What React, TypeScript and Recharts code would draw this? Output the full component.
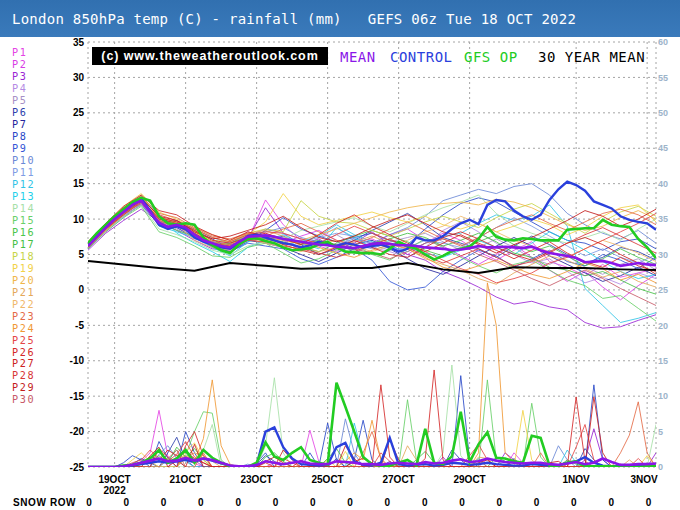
import React from "react";
import { LineChart, Line, XAxis, YAxis, CartesianGrid } from "recharts";

// forecast hours (from 18 OCT 06z) of the date ticks, and their labels
const tickHours = [18, 66, 114, 162, 210, 258, 330, 378];
const tickLabels = ["19OCT", "21OCT", "23OCT", "25OCT", "27OCT", "29OCT", "1NOV", "3NOV"];
const tempTicks = [-25, -20, -15, -10, -5, 0, 5, 10, 15, 20, 25, 30, 35];
const rainTicks = [0, 5, 10, 15, 20, 25, 30, 35, 40, 45, 50, 55, 60];
const snowRow = [0, 0, 0, 0, 0, 0, 0, 0, 0, 0, 0, 0, 0, 0, 0, 0];

const memberNames = Array.from({ length: 30 }, (_, i) => "P" + (i + 1));
const memberColors = [
  "#e444e4", "#d83ce6", "#9a24d4", "#b48ae4", "#a690c6", "#2c40ac", "#24249c", "#2848c8",
  "#3456d6", "#6a88d6", "#7e9ce4", "#30c4e6", "#22d0ea", "#a6e0a6", "#68d068", "#4ac64a",
  "#44c044", "#c6d446", "#f2d246", "#f0b64a", "#e4a85a", "#f0b86a", "#e46a46", "#f09834",
  "#e44646", "#d42828", "#cc2222", "#d83636", "#c41c1c", "#c85a68",
];

// 6-hourly main lines, 850hPa temp (C)
const meanT = [6.2, 7.5, 8.8, 10.0, 11.0, 12.0, 12.6, 11.0, 9.5, 8.9, 9.2, 8.8, 7.8, 7.0, 6.6, 6.2, 6.0, 6.8, 7.5, 7.6, 7.7, 7.5, 7.2, 7.0, 6.8, 6.6, 6.4, 6.3, 6.1, 6.0, 5.9, 6.2, 6.5, 6.6, 6.5, 6.3, 6.3, 6.2, 6.0, 5.9, 5.8, 5.6, 5.7, 5.9, 6.2, 6.0, 6.0, 6.1, 6.0, 5.9, 6.1, 5.6, 5.2, 5.0, 4.8, 4.5, 3.9, 4.0, 4.1, 3.8, 3.4, 3.6, 3.8, 3.6, 3.5];
const controlT = [6.4, 7.8, 9.0, 10.2, 11.2, 12.2, 12.9, 11.2, 9.2, 8.6, 9.0, 8.6, 7.4, 6.8, 6.4, 6.0, 5.8, 6.6, 7.6, 7.8, 7.4, 7.0, 6.6, 6.4, 6.0, 6.3, 6.8, 6.5, 6.2, 6.6, 6.4, 6.0, 6.2, 6.4, 6.0, 5.4, 5.8, 7.4, 7.0, 7.0, 7.6, 8.6, 9.4, 9.9, 9.3, 12.0, 12.7, 12.5, 11.2, 10.4, 9.9, 10.6, 12.7, 14.2, 15.3, 14.8, 14.0, 12.5, 12.0, 11.5, 10.4, 9.9, 9.6, 9.4, 8.5];
const gfsT = [6.6, 8.0, 9.2, 10.4, 11.4, 12.4, 13.0, 12.6, 10.4, 9.4, 9.2, 9.4, 9.2, 7.4, 6.3, 5.6, 5.2, 6.4, 7.2, 7.3, 6.9, 6.6, 6.0, 5.6, 5.7, 5.9, 6.4, 6.8, 6.0, 5.4, 5.3, 5.2, 5.2, 5.0, 5.8, 6.8, 6.2, 5.8, 5.0, 4.3, 4.8, 5.5, 5.8, 6.1, 7.2, 8.9, 7.5, 7.1, 7.0, 7.3, 7.2, 7.0, 7.0, 7.0, 8.5, 8.6, 8.7, 8.7, 9.9, 9.2, 9.0, 8.9, 7.2, 6.0, 4.5];
// daily 30 year mean
const climT = [4.1, 3.6, 3.1, 2.7, 3.8, 3.4, 3.0, 3.1, 3.1, 3.8, 2.9, 2.4, 3.2, 3.1, 3.1, 2.9, 2.8];

// 12-hourly perturbation members, 850hPa temp (C)
const p1 = [6.0, 8.6, 10.8, 12.4, 9.0, 8.8, 7.4, 6.8, 5.2, 7.0, 12.7, 9.2, 7.0, 6.2, 5.4, 6.8, 7.2, 6.0, 5.0, 6.6, 8.0, 7.0, 5.4, 4.2, 5.6, 6.8, 4.0, 3.2, 2.0, 3.6, 1.8, 2.4, 3.0];
const p2 = [6.3, 8.4, 10.6, 12.0, 10.2, 9.6, 8.0, 6.0, 6.4, 8.2, 7.4, 6.6, 7.6, 8.4, 7.0, 5.2, 6.4, 7.8, 8.6, 7.0, 6.2, 4.8, 3.6, 5.0, 6.4, 4.6, 2.8, 1.2, 2.6, 0.4, -1.4, 0.6, 2.2];
const p3 = [5.6, 8.0, 9.8, 11.4, 9.6, 8.4, 7.0, 5.8, 5.6, 7.2, 11.6, 8.0, 6.4, 7.2, 5.8, 6.6, 8.2, 6.4, 5.0, 4.2, 2.6, 1.6, 0.4, -1.0, -2.0, -1.6, -2.4, -2.8, -4.6, -5.4, -5.2, -4.3, -3.5];
const p4 = [6.0, 8.2, 10.2, 12.2, 10.0, 9.0, 7.6, 6.4, 6.8, 7.8, 8.0, 7.0, 5.6, 7.4, 8.8, 7.2, 6.0, 5.4, 4.6, 6.0, 8.4, 9.6, 8.2, 6.6, 5.0, 3.8, 4.4, 2.6, 1.0, 1.8, 0.8, 2.4, 1.6];
const p5 = [6.5, 8.8, 11.2, 12.8, 9.8, 8.6, 7.2, 6.6, 6.2, 7.6, 8.6, 8.0, 7.2, 6.6, 7.8, 6.4, 5.8, 6.8, 7.4, 8.0, 6.8, 5.6, 6.0, 7.2, 6.0, 4.4, 3.6, 4.8, 3.2, 2.2, 3.6, 4.4, 2.8];
const p6 = [6.2, 8.8, 11.4, 12.6, 9.4, 9.8, 8.4, 7.2, 5.8, 7.4, 7.0, 7.6, 6.4, 5.0, 5.8, 7.0, 8.4, 9.6, 10.8, 9.2, 7.4, 6.6, 5.8, 4.6, 6.2, 7.6, 6.4, 5.0, 3.8, 4.6, 6.0, 5.4, 4.2];
const p7 = [6.6, 9.2, 11.6, 13.0, 10.4, 9.0, 7.8, 6.8, 6.4, 7.0, 6.6, 6.0, 5.0, 4.0, 5.2, 6.4, 7.0, 5.8, 4.4, 3.0, 2.2, 3.4, 4.8, 6.2, 7.4, 6.2, 4.8, 3.6, 2.4, 1.2, 2.0, 3.2, 2.0];
const p8 = [5.8, 8.4, 10.4, 12.0, 9.2, 8.8, 7.4, 6.2, 5.4, 6.8, 8.4, 10.2, 8.6, 7.6, 6.8, 7.4, 8.0, 7.0, 6.4, 8.6, 10.6, 12.2, 13.0, 12.4, 11.0, 9.6, 8.2, 7.0, 6.6, 5.6, 6.8, 7.2, 5.8];
const p9 = [6.4, 9.0, 11.0, 12.6, 9.6, 9.4, 7.8, 6.0, 5.4, 6.6, 6.2, 5.8, 4.4, 3.6, 4.6, 5.8, 4.2, 1.2, 0.0, 0.4, 2.6, 4.2, 5.6, 4.8, 3.2, 4.4, 5.6, 4.0, 3.4, 5.0, 4.2, 3.0, 4.6];
const p10 = [6.0, 8.6, 10.8, 12.2, 9.4, 9.2, 8.6, 7.4, 6.6, 7.8, 8.2, 8.8, 7.4, 6.8, 6.4, 7.2, 6.6, 7.8, 8.8, 10.4, 12.6, 13.4, 14.2, 13.6, 14.6, 15.0, 13.4, 10.8, 9.2, 8.0, 7.2, 8.4, 6.6];
const p11 = [6.2, 8.6, 10.6, 12.4, 9.6, 9.0, 7.6, 6.8, 6.0, 7.2, 7.8, 7.4, 6.8, 7.4, 8.0, 7.6, 6.4, 5.6, 6.0, 7.0, 6.6, 6.0, 7.4, 8.8, 10.2, 9.0, 7.6, 6.2, 4.8, 5.8, 4.6, 3.8, 5.0];
const p12 = [6.6, 9.0, 11.4, 13.4, 9.0, 8.2, 7.4, 6.0, 4.8, 6.8, 7.4, 6.4, 6.8, 7.6, 9.2, 7.8, 6.8, 6.2, 5.4, 6.6, 7.6, 8.0, 9.4, 10.6, 9.8, 10.4, 12.0, 9.0, 0.2, -2.2, -4.6, -4.0, -3.2];
const p13 = [6.4, 8.8, 11.0, 13.2, 10.6, 8.0, 6.6, 5.4, 4.0, 6.0, 7.0, 7.8, 6.6, 5.8, 8.8, 7.4, 6.0, 7.0, 6.0, 5.2, 4.6, 5.6, 7.0, 6.0, 5.0, 6.6, 8.2, 7.0, 5.6, 4.0, 2.6, 1.6, 2.2];
const p14 = [6.2, 8.4, 10.4, 12.0, 8.6, 7.8, 6.8, 5.6, 5.0, 6.2, 6.8, 7.2, 8.4, 9.0, 9.6, 10.2, 9.0, 8.2, 9.4, 10.6, 11.6, 12.4, 13.4, 10.8, 9.0, 8.0, 7.2, 6.6, 7.4, 8.2, 7.0, 8.6, 10.0];
const p15 = [5.8, 8.2, 10.2, 11.8, 8.2, 7.4, 6.2, 4.8, 4.6, 6.0, 6.6, 5.2, 3.8, 4.4, 5.6, 6.4, 5.0, 4.2, 5.8, 7.2, 6.0, 4.6, 3.4, 2.4, 3.6, 4.2, 2.8, 1.4, 0.6, -1.2, -0.8, -2.6, -4.4];
const p16 = [6.4, 8.8, 11.0, 12.8, 9.6, 8.4, 7.6, 6.2, 6.6, 7.6, 7.2, 6.8, 6.0, 5.4, 6.6, 7.6, 8.4, 7.6, 6.8, 5.6, 4.8, 5.8, 6.8, 7.8, 6.4, 5.4, 6.2, 4.8, 3.4, 4.4, 5.8, 4.6, 3.6];
const p17 = [6.0, 8.6, 10.6, 12.6, 10.0, 9.2, 8.0, 6.6, 6.0, 7.0, 7.6, 7.2, 6.4, 7.0, 6.2, 5.6, 6.6, 7.2, 8.0, 7.4, 6.2, 7.0, 8.0, 6.8, 5.2, 4.6, 3.2, 2.8, 2.0, 2.6, 1.4, 0.2, -0.6];
const p18 = [6.6, 9.0, 11.2, 13.0, 10.4, 9.4, 8.4, 7.0, 6.8, 8.0, 8.6, 8.2, 12.6, 10.4, 9.6, 9.4, 8.4, 7.6, 8.6, 9.6, 10.4, 9.6, 8.8, 10.2, 11.4, 12.2, 10.8, 9.4, 8.0, 9.6, 11.0, 11.8, 10.4];
const p19 = [6.8, 9.4, 11.8, 13.6, 11.0, 10.0, 8.6, 7.4, 6.8, 7.8, 9.6, 13.6, 10.4, 9.2, 9.8, 10.4, 11.0, 10.2, 9.6, 10.4, 9.2, 8.6, 9.4, 8.2, 9.0, 10.0, 9.2, 7.8, 8.8, 10.4, 11.6, 12.0, 9.6];
const p20 = [6.4, 9.0, 11.2, 13.2, 10.2, 9.6, 8.2, 6.6, 6.2, 7.4, 7.0, 6.4, 7.0, 7.8, 8.6, 9.4, 10.2, 11.0, 11.6, 12.0, 12.2, 12.4, 12.0, 12.8, 12.4, 11.6, 10.4, 9.2, 8.4, 9.0, 10.2, 11.2, 10.0];
const p21 = [6.0, 8.4, 10.6, 12.4, 9.8, 9.4, 8.8, 7.8, 7.0, 8.0, 8.4, 7.6, 6.2, 5.4, 6.0, 6.8, 7.6, 6.6, 5.8, 4.4, 3.6, 2.8, 1.6, 0.8, 2.4, 3.6, 4.8, 4.2, 3.0, 1.8, 2.6, 1.2, 0.4];
const p22 = [6.2, 8.8, 11.2, 13.4, 9.8, 9.2, 7.0, 6.0, 5.6, 7.2, 6.6, 6.0, 5.4, 6.4, 7.0, 6.2, 5.4, 6.2, 7.0, 8.2, 9.0, 10.4, 9.4, 8.2, 7.0, 6.2, 5.4, 4.6, 5.8, 7.0, 6.2, 5.2, 4.0];
const p23 = [6.6, 9.2, 11.6, 13.2, 10.8, 10.2, 8.8, 7.6, 7.2, 8.0, 7.6, 8.6, 9.4, 8.2, 7.0, 6.4, 7.4, 8.6, 9.6, 8.4, 7.2, 6.2, 7.4, 8.8, 9.8, 10.6, 9.4, 8.4, 9.6, 10.8, 11.4, 10.6, 9.2];
const p24 = [6.0, 8.4, 10.6, 12.6, 9.6, 9.0, 8.2, 6.8, 6.4, 7.6, 7.4, 7.0, 6.6, 6.0, 5.2, 4.6, 5.6, 6.4, 5.8, 4.6, 3.2, 2.6, 3.4, 4.2, 3.2, 2.2, 1.6, 2.6, 3.8, 3.0, 1.4, 2.2, 1.0];
const p25 = [6.4, 8.8, 11.0, 12.8, 10.6, 9.8, 8.6, 7.4, 6.8, 7.8, 8.2, 8.0, 7.2, 6.6, 7.8, 9.0, 8.0, 7.0, 6.2, 5.4, 4.2, 3.0, 2.2, 1.0, 1.6, 2.4, 3.8, 4.6, 5.8, 7.0, 8.2, 9.4, 10.8];
const p26 = [6.2, 8.6, 10.8, 12.6, 10.2, 9.6, 8.4, 7.0, 6.6, 7.4, 8.0, 7.2, 6.4, 7.8, 9.4, 10.6, 9.0, 7.8, 6.6, 5.4, 6.6, 7.8, 6.6, 5.6, 4.4, 5.6, 6.8, 5.2, 4.0, 3.2, 4.6, 3.4, 2.6];
const p27 = [6.8, 9.4, 11.8, 13.4, 11.2, 10.6, 9.0, 7.8, 7.0, 8.2, 7.6, 6.4, 5.6, 5.0, 6.0, 7.0, 6.0, 5.0, 4.6, 6.0, 7.4, 8.2, 7.2, 6.0, 5.0, 4.2, 5.4, 6.6, 7.4, 6.4, 5.0, 3.8, 2.2];
const p28 = [6.0, 8.6, 10.6, 12.4, 10.0, 9.4, 8.0, 6.6, 6.2, 7.0, 6.8, 6.2, 5.8, 5.2, 4.6, 5.4, 6.4, 7.2, 6.0, 4.8, 3.8, 4.8, 5.8, 4.6, 3.4, 4.0, 5.2, 6.6, 7.8, 8.8, 7.6, 6.4, 5.2];
const p29 = [6.4, 9.0, 11.2, 13.0, 10.4, 9.8, 8.2, 7.2, 7.6, 8.4, 9.2, 10.4, 8.8, 7.4, 6.8, 7.6, 8.8, 9.8, 10.6, 9.4, 8.2, 7.6, 6.4, 5.2, 6.4, 7.4, 8.6, 9.8, 11.2, 10.4, 9.0, 10.0, 11.4];
const p30 = [6.2, 8.6, 10.8, 12.2, 9.8, 9.0, 7.8, 6.4, 5.8, 7.0, 7.2, 6.6, 6.0, 6.8, 6.4, 5.8, 5.2, 4.4, 5.4, 6.6, 7.2, 6.4, 5.0, 4.0, 2.8, 1.6, 0.6, 1.8, 2.8, 1.6, 0.2, -1.0, -2.2];
const members = [p1, p2, p3, p4, p5, p6, p7, p8, p9, p10, p11, p12, p13, p14, p15, p16, p17, p18, p19, p20, p21, p22, p23, p24, p25, p26, p27, p28, p29, p30];

// 6-hourly rainfall (mm)
const meanR = [0, 0, 0, 0, 0.1, 0.3, 0.6, 0.9, 1.2, 0.8, 0.9, 1.3, 0.9, 1.2, 1.0, 0.6, 0.2, 0.1, 0.1, 0.3, 0.8, 0.6, 0.4, 0.6, 0.8, 0.5, 0.4, 0.4, 0.8, 0.7, 0.6, 0.4, 0.4, 0.3, 0.5, 0.6, 0.5, 0.4, 0.7, 0.5, 0.6, 0.9, 1.1, 0.7, 0.8, 1.2, 0.9, 0.7, 0.6, 0.5, 0.6, 0.6, 0.4, 0.3, 0.5, 0.7, 0.4, 0.6, 1.2, 0.7, 0.3, 0.3, 0.4, 0.4, 0.5];
const controlR = [0, 0, 0, 0, 0, 0.2, 0.4, 0.6, 0.8, 0.6, 0.8, 1.0, 0.7, 1.2, 0.9, 0.5, 0.2, 0, 0, 0.3, 5.0, 5.6, 2.8, 1.2, 0.4, 0.3, 0.2, 0.3, 2.8, 3.4, 0.8, 0.3, 0.2, 0.6, 4.1, 0.4, 0.2, 0.3, 0.4, 0.2, 0.3, 0.6, 0.5, 0.3, 0.4, 0.6, 0.4, 0.3, 0.2, 0.2, 0.4, 0.3, 0.2, 0.2, 0.6, 0.8, 1.4, 0.6, 0.2, 0.1, 0.1, 0.1, 0.2, 0.1, 0.2];
const gfsR = [0, 0, 0, 0, 0.2, 0.3, 0.6, 1.2, 2.4, 0.6, 1.2, 2.4, 0.6, 2.4, 1.3, 0.6, 0.1, 0, 0, 0.6, 3.5, 1.5, 1.0, 2.0, 2.8, 1.0, 0.6, 0.3, 11.9, 8.5, 5.0, 1.4, 0.4, 0.2, 0.2, 0.6, 1.0, 0.2, 5.4, 0.6, 0.4, 1.5, 7.8, 0.7, 3.2, 4.9, 1.3, 1.2, 0.8, 0.6, 4.4, 4.1, 0.2, 0.2, 0.6, 0.8, 0.1, 0.1, 0.1, 0.1, 0, 0, 0, 0.1, 0.1];

const rainP1 = [0, 0, 0, 0, 0, 0, 0.8, 2.0, 8.0, 1.5, 0.6, 1.0, 0.5, 0, 0, 0, 0, 0, 0, 0, 0, 0.6, 0, 0, 0, 5.2, 0.8, 0, 0, 0, 0, 0, 0, 0, 0, 0, 0, 0, 0, 0, 0, 0, 0, 0, 0, 1.2, 0, 0, 2.0, 0.6, 0, 0, 0, 0, 0, 0, 0, 0, 0, 0, 0, 0, 0, 0, 0];
const rainP3 = [0, 0, 0, 0, 0, 0, 0, 0, 0, 0, 1.4, 2.4, 1.0, 0, 0, 0, 0, 0, 0, 0, 0, 0, 0, 0, 0, 0, 0, 0, 0, 0, 0, 0, 0, 0, 0, 0, 0, 0, 0, 0, 1.4, 0, 0, 0, 0, 0, 0, 2.0, 1.0, 0, 0, 0, 0, 0, 0, 0, 1.0, 5.4, 1.0, 0, 0, 0, 0, 0, 2.0];
const rainP6 = [0, 0, 0, 0, 0, 0.4, 1.2, 0.6, 0, 2.0, 4.2, 1.0, 0, 0, 0, 0, 0, 0, 0, 0.4, 1.6, 0.8, 0, 0, 0, 0, 0.6, 0, 1.2, 0, 0, 0, 0, 0, 0.8, 0, 0, 0, 0, 0, 0, 2.4, 1.0, 0, 0, 0, 0, 0, 1.2, 0, 0, 0, 0, 0, 0, 0, 2.6, 1.0, 0, 0, 0, 0, 0, 0, 0];
const rainP8 = [0, 0, 0, 0, 0.6, 1.6, 1.0, 0, 3.6, 1.2, 0, 5.0, 2.0, 0, 0, 0, 0, 0, 0, 0.6, 2.0, 0, 0, 0, 0, 2.0, 0, 6.2, 1.0, 0, 1.0, 6.6, 1.0, 0, 0, 0, 0, 0, 0, 0, 0, 0, 12.9, 1.0, 0, 0, 0, 0, 0, 0, 0, 0, 0, 0, 0, 0, 0, 11.6, 1.0, 0, 0, 0, 0, 0, 0];
const rainP10 = [0, 0, 0, 0, 0, 0, 0, 0, 1.8, 3.0, 1.2, 0, 0, 0, 0, 0, 0, 0, 0.4, 0, 0, 0, 0, 0, 0, 0, 0, 0, 0, 6.8, 2.0, 0, 0, 0, 0, 0.6, 0, 0, 0, 0, 0, 0, 0, 0, 0, 0, 0, 0, 0, 0, 0, 0, 0, 3.0, 1.0, 0, 0, 0, 0, 0, 0, 0, 0, 0, 0];
const rainP12 = [0, 0, 0, 0, 0, 0, 0, 0, 0, 1.0, 2.4, 0.8, 0, 0, 0, 0, 0, 0, 0, 0, 0, 0, 0, 0, 0, 0, 0, 0, 0, 0, 6.2, 1.6, 0, 0, 0, 0, 0, 0, 0, 0, 0, 0, 0, 0, 1.2, 0, 0, 0, 0, 0, 0, 0, 0, 0, 2.4, 0.6, 0, 0, 0, 0, 0, 0, 0, 0, 0];
const rainP14 = [0, 0, 0, 0, 0, 0, 0, 0, 0, 0, 0, 0, 0, 2.4, 6.0, 0, 0, 0, 0, 0, 3.0, 12.6, 2.0, 0, 0, 0, 0, 0, 0, 0, 0, 0, 0, 0, 0, 0, 0, 0, 0, 0, 2.0, 14.4, 1.6, 0, 0, 0, 0, 0, 0, 0, 0, 0, 0, 0, 0, 0, 0, 0, 0, 0, 0, 0, 0, 0, 6.0];
const rainP15 = [0, 0, 0, 0, 0, 0, 0, 0, 0, 0, 0, 1.6, 5.0, 7.8, 7.6, 1.0, 0, 0, 0, 0, 0, 0, 0, 0, 0, 0, 0, 0, 0, 0, 0, 0, 0, 0, 0, 0, 9.5, 1.0, 0, 0, 0, 0, 0, 0, 0, 12.3, 1.0, 0, 0, 0, 9.0, 1.4, 0, 0, 0, 0, 0, 0, 0, 0, 0, 0, 0, 0, 0];
const rainP17 = [0, 0, 0, 0, 0, 0, 0.4, 0.8, 1.6, 0.6, 2.8, 1.4, 2.6, 1.0, 0, 0, 0, 0, 0, 0, 1.4, 2.0, 0.8, 0, 0, 0, 0, 1.2, 2.6, 0.6, 0, 0, 0, 0, 0, 0, 0, 1.0, 2.2, 0.6, 0, 0, 0, 0, 0, 0, 1.4, 0.8, 0, 0, 0, 0, 0, 0, 1.0, 0.4, 0, 0, 0, 0, 0, 0, 0, 0, 0];
const rainP19 = [0, 0, 0, 0, 0, 1.0, 2.0, 0.8, 0, 0, 0, 2.2, 3.4, 1.0, 0, 0, 0, 0, 0, 0, 0, 0, 0, 0, 0, 0, 0, 1.0, 0, 2.2, 0, 0, 0, 0, 0, 0, 0, 0, 0, 0, 0, 0, 0, 0, 0, 0, 0, 0, 0, 8.0, 1.0, 0, 0, 0, 0, 0, 0, 0, 0, 0, 0, 0, 0, 1.6, 0];
const rainP21 = [0, 0, 0, 0, 0, 0, 0, 0, 0, 0, 0, 1.2, 2.0, 1.6, 0.8, 0, 0, 0, 0, 0, 0, 0, 0, 0, 0, 0, 0, 0, 0, 0, 0, 0, 0, 0, 0, 0, 3.0, 1.0, 0, 0, 0, 0, 0, 0, 1.4, 1.2, 0, 0, 0, 0, 0, 0, 0, 0, 0, 0, 0, 0, 0, 0, 0, 1.0, 0, 0, 0];
const rainP23 = [0, 0, 0, 0, 0, 0, 0, 0, 0, 1.2, 2.4, 0, 0, 2.0, 0, 0, 0, 0, 0, 0, 0, 0, 0, 0, 0, 0, 0, 0, 0, 0, 0, 2.0, 5.0, 1.2, 0, 0, 0, 0, 0, 0, 0, 0, 0, 0, 1.0, 0, 0, 0, 0, 0, 0, 2.0, 0, 0, 0, 0, 0, 0, 0, 0, 2.0, 4.5, 9.2, 2.0, 0];
const rainP24 = [0, 0, 0, 0, 0, 0, 0.4, 1.2, 2.2, 1.0, 0.8, 1.6, 0.8, 4.0, 12.3, 3.0, 0.4, 0, 0, 0, 0, 0, 0, 0, 0, 0, 0, 0, 0, 0.8, 2.0, 1.0, 6.6, 1.0, 0, 0, 0, 0, 0, 0, 0, 0, 0, 0, 2.0, 26.0, 20.0, 2.0, 0.6, 0, 0, 0, 0, 0, 0, 0, 0, 0, 0, 0, 0, 0, 0, 0, 0];
const rainP25 = [0, 0, 0, 0, 0, 0.6, 1.0, 2.4, 1.2, 0.8, 1.8, 3.6, 1.4, 0.6, 0, 0, 0, 0, 0, 0, 0, 0, 1.2, 0.6, 0, 0, 0, 0, 0, 0, 0, 0, 0, 2.0, 0.8, 0, 0, 0, 0, 0, 0, 0, 0, 1.6, 3.2, 1.0, 0, 0, 0, 0, 0, 0, 0, 0, 0, 2.8, 6.0, 1.0, 0, 0, 0, 0, 1.2, 0, 0];
const rainP26 = [0, 0, 0, 0, 0, 0, 0, 0, 2.6, 1.4, 0, 3.0, 5.0, 1.6, 0, 0, 0, 0, 0, 0, 0.6, 0, 0, 0, 1.0, 0, 0, 0, 0, 0, 0, 0, 0, 11.6, 1.4, 0, 0, 0, 1.2, 13.7, 1.0, 0, 0, 0, 0, 0, 0, 0, 0, 0, 0, 0, 0, 0, 0, 9.9, 0.8, 0, 0, 0, 0, 0, 0, 0, 0];
const rainP27 = [0, 0, 0, 0, 0, 0, 0, 1.6, 2.8, 0, 1.0, 0, 3.2, 0, 0, 0, 0, 0, 0, 0, 0, 0, 2.4, 1.0, 0, 0, 0, 0, 0, 3.0, 1.2, 0, 0, 0, 4.0, 1.0, 0, 0, 0, 0, 0, 0, 0, 0, 0, 0, 0, 0, 1.0, 0, 0, 0, 0, 0, 0, 0, 0, 9.9, 2.0, 0, 0, 0, 0, 0, 0];
const rainP29 = [0, 0, 0, 0, 0, 0, 0.6, 1.4, 1.0, 2.4, 1.6, 2.2, 1.2, 0.6, 0, 0, 0, 0, 0, 0, 0.8, 1.4, 0.6, 0, 0, 0, 0, 0, 0, 0, 0.8, 1.2, 0.6, 0, 0, 0, 0, 0, 0, 0, 0, 0, 0, 0, 0.6, 1.0, 0, 0, 0, 0, 0, 0, 0.6, 0.8, 0, 0, 0, 0, 0, 0, 0.4, 0, 0, 0, 0];
const rainMembers = [
  { m: 0, v: rainP1 }, { m: 2, v: rainP3 }, { m: 5, v: rainP6 }, { m: 7, v: rainP8 },
  { m: 9, v: rainP10 }, { m: 11, v: rainP12 }, { m: 13, v: rainP14 }, { m: 14, v: rainP15 },
  { m: 16, v: rainP17 }, { m: 18, v: rainP19 }, { m: 20, v: rainP21 }, { m: 22, v: rainP23 },
  { m: 23, v: rainP24 }, { m: 24, v: rainP25 }, { m: 25, v: rainP26 }, { m: 26, v: rainP27 },
  { m: 28, v: rainP29 },
];

const MONO = '"DejaVu Sans Mono", monospace';
const SANS = '"Liberation Sans", Arial, sans-serif';
const MEAN_C = "#8a16e8";
const CONTROL_C = "#2a40dc";
const GFS_C = "#22cc22";

const series = (vals: number[], step: number) => vals.map((v, i) => ({ h: i * step, v }));

function XTick(props: any) {
  const { x, y, payload } = props;
  const idx = tickHours.indexOf(payload.value);
  const dx = idx === tickHours.length - 1 ? -3 : 0;
  return (
    <g>
      <text x={x + dx} y={y + 14} textAnchor="middle" fontSize={10} fontWeight="bold" fontFamily={SANS} fill="#000">
        {tickLabels[idx]}
      </text>
      {idx === 0 && (
        <text x={x} y={y + 25} textAnchor="middle" fontSize={10} fontWeight="bold" fontFamily={SANS} fill="#000">
          2022
        </text>
      )}
    </g>
  );
}

export default function App() {
  const thin = 0.85;
  return (
    <div style={{ position: "relative", width: 680, height: 510, background: "#fff", overflow: "hidden" }}>
      <style>{"body{margin:0}"}</style>
      <div style={{ position: "absolute", left: 0, top: 0 }}>
        <LineChart width={680} height={510} margin={{ top: 42, right: 0, bottom: 0, left: 0 }}>
          <CartesianGrid yAxisId="t" strokeDasharray="2 3" stroke="#a4a4a4" />
          <XAxis
            dataKey="h"
            type="number"
            domain={[0, 384]}
            ticks={tickHours}
            height={43}
            axisLine={false}
            tickLine={false}
            tickSize={0}
            interval={0}
            tick={(p: any) => <XTick {...p} />}
            allowDataOverflow
          />
          <YAxis
            yAxisId="t"
            domain={[-25, 35]}
            ticks={tempTicks}
            width={88}
            axisLine={false}
            tickLine={false}
            tickSize={2}
            tickMargin={2}
            interval={0}
            tick={{ fontSize: 10, fontWeight: 700, fill: "#000", fontFamily: SANS }}
            allowDataOverflow
          />
          <YAxis
            yAxisId="r"
            orientation="right"
            domain={[0, 60]}
            ticks={rainTicks}
            width={24}
            axisLine={false}
            tickLine={false}
            tickSize={0}
            tickMargin={2}
            interval={0}
            tick={{ fontSize: 9, fontWeight: 700, fill: "#9db4ca", fontFamily: SANS }}
            allowDataOverflow
          />
          {members.map((m, k) => (
            <Line
              key={"t" + k}
              data={series(m, 12)}
              dataKey="v"
              yAxisId="t"
              type="linear"
              stroke={memberColors[k]}
              strokeWidth={thin}
              dot={false}
              isAnimationActive={false}
            />
          ))}
          {rainMembers.map((r, k) => (
            <Line
              key={"r" + k}
              data={series(r.v, 6)}
              dataKey="v"
              yAxisId="r"
              type="linear"
              stroke={memberColors[r.m]}
              strokeWidth={thin}
              dot={false}
              isAnimationActive={false}
            />
          ))}
          <Line data={series(controlR, 6)} dataKey="v" yAxisId="r" stroke={CONTROL_C} strokeWidth={2.4} dot={false} isAnimationActive={false} />
          <Line data={series(gfsR, 6)} dataKey="v" yAxisId="r" stroke={GFS_C} strokeWidth={2.6} dot={false} isAnimationActive={false} />
          <Line data={series(meanR, 6)} dataKey="v" yAxisId="r" stroke={MEAN_C} strokeWidth={2.6} dot={false} isAnimationActive={false} />
          <Line data={series(climT, 24)} dataKey="v" yAxisId="t" stroke="#000" strokeWidth={2} dot={false} isAnimationActive={false} />
          <Line data={series(controlT, 6)} dataKey="v" yAxisId="t" stroke={CONTROL_C} strokeWidth={2.4} dot={false} isAnimationActive={false} />
          <Line data={series(gfsT, 6)} dataKey="v" yAxisId="t" stroke={GFS_C} strokeWidth={2.6} dot={false} isAnimationActive={false} />
          <Line data={series(meanT, 6)} dataKey="v" yAxisId="t" stroke={MEAN_C} strokeWidth={2.6} dot={false} isAnimationActive={false} />
        </LineChart>
      </div>

      <div
        style={{
          position: "absolute", left: 0, top: 0, width: 680, height: 37, boxSizing: "border-box",
          background: "linear-gradient(#3170b0, #3a7abb)", color: "#fff", fontFamily: MONO, fontSize: 14,
          lineHeight: "38px", paddingLeft: 12, letterSpacing: 0.25, whiteSpace: "pre",
        }}
      >
        London 850hPa temp (C) - rainfall (mm)   GEFS 06z Tue 18 OCT 2022
      </div>

      <div
        style={{
          position: "absolute", left: 92, top: 47, width: 236, height: 18, background: "#000", color: "#fff",
          fontFamily: SANS, fontWeight: 700, fontSize: 12.5, lineHeight: "18px", textAlign: "center", letterSpacing: 0.9,
        }}
      >
        (c) www.theweatheroutlook.com
      </div>
      <div style={{ position: "absolute", top: 49, left: 340, fontFamily: MONO, fontSize: 14, letterSpacing: 0.5, whiteSpace: "pre", lineHeight: "16px" }}>
        <span style={{ color: MEAN_C }}>MEAN</span>
        <span style={{ position: "absolute", left: 50, color: CONTROL_C }}>CONTROL</span>
        <span style={{ position: "absolute", left: 124, color: GFS_C }}>GFS OP</span>
        <span style={{ position: "absolute", left: 198, color: "#000" }}>30 YEAR MEAN</span>
      </div>

      {memberNames.map((n, i) => (
        <div
          key={n}
          style={{
            position: "absolute", left: 12, top: 47 + i * 11.98, height: 11.5, fontFamily: MONO, fontSize: 10.2,
            lineHeight: "11.5px", color: memberColors[i], letterSpacing: 1.6,
          }}
        >
          {n}
        </div>
      ))}

      <div style={{ position: "absolute", left: 13, top: 497, fontFamily: SANS, fontWeight: 700, fontSize: 10, letterSpacing: 0.6, lineHeight: "12px" }}>
        SNOW ROW
      </div>
      {snowRow.map((s, i) => (
        <div
          key={"s" + i}
          style={{
            position: "absolute", left: 85 + i * 37.3, width: 8, textAlign: "center", top: 497,
            fontFamily: SANS, fontWeight: 700, fontSize: 10, lineHeight: "12px",
          }}
        >
          {s}
        </div>
      ))}
    </div>
  );
}
